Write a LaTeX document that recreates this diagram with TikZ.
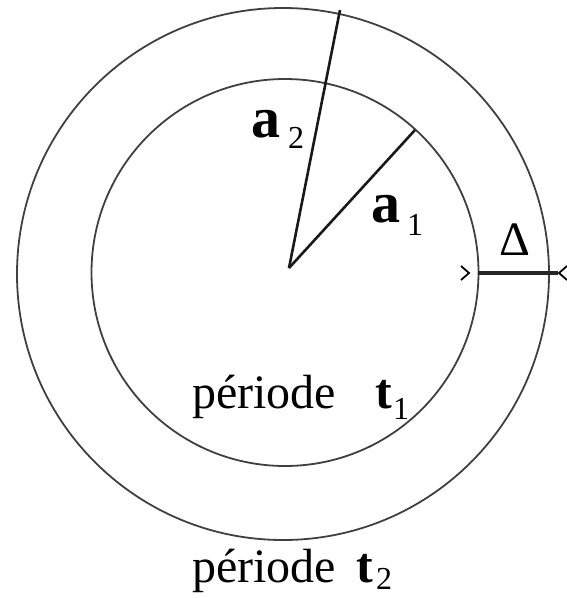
\documentclass[tikz,border=0pt]{standalone}
\usepackage{fontspec}
\setmainfont{Liberation Serif}
\begin{document}
\begin{tikzpicture}[x=1pt,y=-1pt,
  ring/.style={draw=black!75,line width=1.8pt},
  radline/.style={draw=black!90,line width=2.6pt},
  lbl/.style={inner sep=0pt,anchor=base west},
  big/.style={font=\fontsize{48}{50}\selectfont},
  bigb/.style={font=\fontsize{50}{54}\selectfont\bfseries},
  biga/.style={font=\fontsize{58}{60}\selectfont\bfseries},
  sub/.style={font=\fontsize{32}{36}\selectfont}]
\useasboundingbox (0,0) rectangle (566,598);
\coordinate (C) at (285,272.5);
\coordinate (O) at (289,268);
\coordinate (A2) at (340,10);
\coordinate (A1) at (415,130);
\draw[ring] (C) circle[radius=193.5];
\draw[ring] (283,274) circle[radius=266];
\draw[radline] (O) -- (A2);
\draw[radline] (O) -- (A1);
% Delta dimension
\coordinate (D1) at (478,273);
\coordinate (D2) at (558,273);
\draw[draw=black!85,line width=3.5pt] (D1) -- (D2);
\draw[line width=1.8pt] (461,266) -- (469,273) -- (461,280);
\draw[line width=1.8pt] (567,266) -- (559,273) -- (567,280);
% labels
\node[lbl,biga] (la2) at (251,137) {a};
\node[lbl,sub] (sa2) at (288,148) {2};
\node[lbl,biga] (la1) at (371,222) {a};
\node[lbl,sub] (sa1) at (407,235) {1};
\node[lbl,font=\fontsize{48}{52}\selectfont] (dl) at (499,255) {Δ};
\node[lbl,big] (p1) at (192,408) {période};
\node[lbl,bigb] (t1) at (375,408) {t};
\node[lbl,sub] (s1) at (393,419) {1};
\node[lbl,big] (p2) at (192,582) {période};
\node[lbl,bigb] (t2) at (356,582) {t};
\node[lbl,sub] (s2) at (376,589) {2};
\end{tikzpicture}
\end{document}
